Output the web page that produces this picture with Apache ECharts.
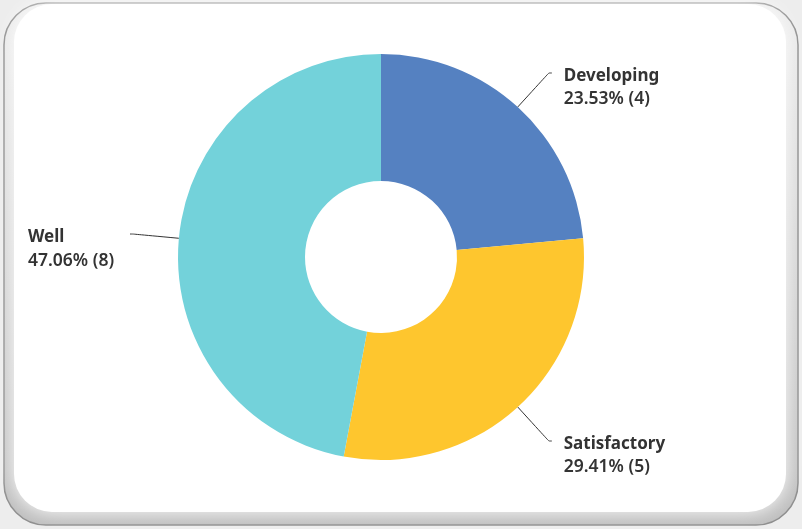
<!DOCTYPE html>
<html>
<head>
<meta charset="utf-8">
<style>
  html, body { margin: 0; padding: 0; background: #ececec; }
  #chart { width: 802px; height: 529px; }
</style>
<script src="https://cdn.jsdelivr.net/npm/echarts@6/dist/echarts.min.js"></script>
</head>
<body>
<div id="chart"></div>
<script>
// Response categories and their counts
const categories = ['Developing', 'Satisfactory', 'Well'];
const counts = [4, 5, 8];
const sliceColors = ['#5581c1', '#fec62e', '#73d2da'];

const total = counts.reduce((a, b) => a + b, 0);
const pieData = categories.map((name, i) => ({
  name: name,
  value: counts[i],
  itemStyle: { color: sliceColors[i] },
  // the left-hand label sits a little further from its leader line
  label: { distanceToLabelLine: name === 'Well' ? 16 : 12 }
}));

const chart = echarts.init(document.getElementById('chart'), null, { renderer: 'canvas' });

const textBase = {
  fontFamily: 'Noto Sans',
  fontSize: 17,
  color: '#333333',
  lineHeight: 23,
  align: 'left'
};

chart.setOption({
  backgroundColor: '#ededed',
  animation: false,
  graphic: [
    // framed card: grey bevel behind a white panel
    {
      type: 'rect',
      z: -10,
      silent: true,
      shape: { x: 4, y: 3, width: 794, height: 522, r: 42 },
      style: {
        fill: {
          type: 'linear', x: 0, y: 0, x2: 0, y2: 1,
          colorStops: [
            { offset: 0, color: '#ececec' },
            { offset: 1, color: '#bdbdbd' }
          ]
        },
        stroke: '#8a8a8a',
        lineWidth: 1.5
      }
    },
    {
      type: 'rect',
      z: -9,
      silent: true,
      shape: { x: 14, y: 4, width: 772, height: 508, r: 38 },
      style: {
        fill: '#ffffff',
        shadowBlur: 20,
        shadowColor: 'rgba(255,255,255,1)'
      }
    }
  ],
  series: [
    {
      type: 'pie',
      center: [381, 257],
      radius: [76, 203],
      startAngle: 90,
      clockwise: true,
      avoidLabelOverlap: false,
      data: pieData,
      itemStyle: { borderWidth: 0 },
      label: {
        show: true,
        position: 'outside',
        distanceToLabelLine: 12,
        formatter: function (p) {
          const pct = (p.value / total * 100).toFixed(2);
          return '{n|' + p.name + '}\n{v|' + pct + '% (' + p.value + ')}';
        },
        padding: [30, 0, 0, 0],
        rich: {
          n: Object.assign({}, textBase, { fontWeight: 'bold' }),
          v: Object.assign({}, textBase, { fontWeight: 600, fontSize: 17.5 })
        }
      },
      labelLine: {
        show: true,
        length: 46,
        length2: 3,
        smooth: 0.2,
        lineStyle: { color: '#333333', width: 1 }
      },
      emphasis: { disabled: true }
    }
  ]
});
</script>
</body>
</html>
